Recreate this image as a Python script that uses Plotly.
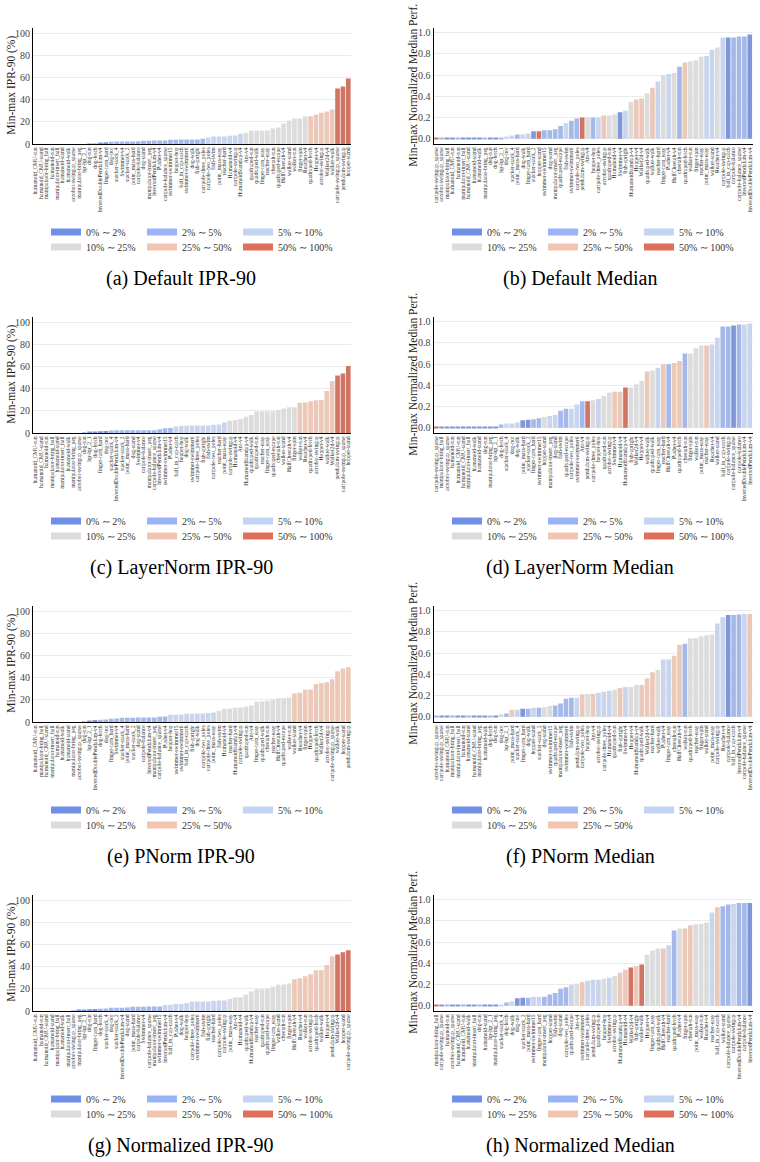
import plotly.graph_objects as go

W, H = 760, 1162
FONT = "Liberation Serif"

# ---------------- legend / colour categories ----------------
BIN_NAMES = ["0% ∼ 2%", "2% ∼ 5%", "5% ∼ 10%", "10% ∼ 25%", "25% ∼ 50%", "50% ∼ 100%"]
BIN_EDGES = [0, 2, 5, 10, 25, 50, 100]
LEGEND_COLORS = ["#7090E8", "#98B4F5", "#C3D3F3", "#DCDCDC", "#F3C5AF", "#DF6F5A"]
BAR_COLORS = ["#7F97D9", "#A4B9E9", "#C9D5ED", "#DCDCDC", "#EBC8B8", "#D07564"]

# ---------------- (a) Default IPR-90 ----------------
labels_default_ipr = [
    "humanoid_CMU-run", "humanoid_CMU-stand", "manipulator-bring_ball", "humanoid-run",
    "manipulator-insert_ball", "humanoid-stand", "humanoid-walk", "acrobot-swingup_sparse",
    "manipulator-bring_peg", "lqr-lqr_2_1", "dog-run", "dog-fetch", "InvertedDoublePendulum-v4",
    "finger-turn_hard", "dog-trot", "stacker-stack_4", "Swimmer-v4", "stacker-stack_2",
    "point_mass-hard", "cartpole-balance", "dog-stand", "manipulator-insert_peg",
    "InvertedPendulum-v4", "Pusher-v4", "cartpole-balance_sparse", "swimmer-swimmer15",
    "hopper-hop", "ball_in_cup-catch", "swimmer-swimmer6", "dog-walk", "fish-upright",
    "cartpole-three_poles", "cartpole-two_poles", "fish-swim", "point_mass-easy", "reacher-hard",
    "Humanoid-v4", "cartpole-swingup", "HumanoidStandup-v4", "Ant-v4", "quadruped-run",
    "quadruped-walk", "finger-turn_easy", "reacher-easy", "cheetah-run", "quadruped-escape",
    "HalfCheetah-v4", "walker-stand", "walker-run", "finger-spin", "Reacher-v4",
    "quadruped-fetch", "Hopper-v4", "acrobot-swingup", "Walker2d-v4", "walker-walk",
    "cartpole-swingup_sparse", "pendulum-swingup", "hopper-stand"]
values_default_ipr = [
    0, 0, 0, 0, 0, 0, 0, 0, 0, 0, 0.1, 0.3, 0.8, 1.6,
    2.1, 2.2, 2.2, 2.3, 2.3, 2.4, 3.0, 3.0, 3.1, 3.1, 3.2, 3.9, 3.9, 4.0, 4.0, 4.1, 4.1, 4.8,
    5.8, 6.7, 6.7, 6.8, 7.5, 7.6, 9.3,
    10.3, 12.1, 12.1, 12.1, 12.2, 14.0, 15.0, 18.5, 21.2, 23.0, 23.1, 24.8,
    25.1, 26.4, 28.2, 29.4, 31.2,
    50.3, 52.1, 59.4]

# ---------------- (b) Default Median ----------------
labels_default_med = [
    "cartpole-swingup_sparse", "acrobot-swingup_sparse", "manipulator-bring_ball", "humanoid_CMU-run",
    "humanoid-run", "manipulator-insert_ball", "humanoid_CMU-stand", "humanoid-stand", "humanoid-walk",
    "manipulator-bring_peg", "dog-run", "dog-fetch", "lqr-lqr_2_1", "dog-trot", "stacker-stack_4",
    "point_mass-hard", "dog-walk", "finger-turn_hard", "stacker-stack_2", "hopper-stand",
    "swimmer-swimmer15", "dog-stand", "manipulator-insert_peg", "quadruped-escape", "fish-swim",
    "swimmer-swimmer6", "cartpole-two_poles", "pendulum-swingup", "Ant-v4", "hopper-hop",
    "cartpole-three_poles", "acrobot-swingup", "quadruped-run", "Humanoid-v4", "Swimmer-v4",
    "fish-upright", "HumanoidStandup-v4", "Hopper-v4", "Walker2d-v4", "quadruped-walk", "walker-walk",
    "reacher-hard", "finger-turn_easy", "Pusher-v4", "HalfCheetah-v4", "cheetah-run", "quadruped-fetch",
    "walker-run", "finger-spin", "reacher-easy", "point_mass-easy", "walker-stand", "Reacher-v4",
    "cartpole-swingup", "ball_in_cup-catch", "cartpole-balance", "cartpole-balance_sparse",
    "InvertedPendulum-v4", "InvertedDoublePendulum-v4"]
values_default_med = [
    0.003, 0.004, 0.004, 0.005, 0.005, 0.005, 0.006, 0.006, 0.007, 0.008, 0.009, 0.010, 0.012,
    0.02, 0.03, 0.04, 0.04, 0.05, 0.07, 0.07, 0.08, 0.08, 0.09, 0.12, 0.145, 0.17, 0.19, 0.20,
    0.20, 0.20, 0.20, 0.22, 0.22, 0.23, 0.25, 0.265, 0.35, 0.37, 0.38, 0.43, 0.48, 0.54, 0.60,
    0.61, 0.62, 0.68, 0.72, 0.73, 0.74, 0.775, 0.78, 0.84, 0.86, 0.955, 0.955, 0.955, 0.965,
    0.965, 0.985]
bins_default_med = [
    5, 1, 0, 0, 1, 0, 0, 0, 0, 1, 0, 0, 1, 2, 2, 1, 2, 2, 0, 5, 1, 1, 1, 1, 2, 1, 1, 5, 3, 1,
    2, 4, 3, 3, 0, 2, 3, 4, 4, 3, 4, 2, 3, 2, 3, 1, 4, 3, 3, 3, 2, 2, 3, 2, 0, 1, 1, 1, 0]

# ---------------- (c) LayerNorm IPR-90 ----------------
labels_layernorm_ipr = [
    "humanoid_CMU-run", "humanoid_CMU-stand", "humanoid-run", "manipulator-bring_ball",
    "humanoid-stand", "manipulator-insert_ball", "humanoid-walk", "manipulator-bring_peg",
    "acrobot-swingup_sparse", "dog-run", "lqr-lqr_2_1", "dog-fetch", "finger-turn_hard", "dog-trot",
    "stacker-stack_4", "InvertedDoublePendulum-v4", "stacker-stack_2", "point_mass-hard", "dog-stand",
    "Swimmer-v4", "cartpole-balance", "manipulator-insert_peg", "cartpole-balance_sparse",
    "InvertedPendulum-v4", "swimmer-swimmer15", "Pusher-v4", "ball_in_cup-catch", "hopper-hop",
    "dog-walk", "swimmer-swimmer6", "cartpole-three_poles", "fish-upright", "fish-swim",
    "cartpole-two_poles", "reacher-hard", "point_mass-easy", "cartpole-swingup", "Humanoid-v4",
    "Ant-v4", "HumanoidStandup-v4", "quadruped-walk", "quadruped-run", "reacher-easy",
    "finger-turn_easy", "quadruped-escape", "cheetah-run", "walker-stand", "HalfCheetah-v4",
    "finger-spin", "walker-run", "Reacher-v4", "quadruped-fetch", "acrobot-swingup", "Hopper-v4",
    "walker-walk", "Walker2d-v4", "pendulum-swingup", "cartpole-swingup_sparse", "hopper-stand"]
values_layernorm_ipr = [
    0, 0, 0, 0, 0, 0, 0, 0, 0, 0.4, 0.7, 1.4, 1.5, 1.7,
    2.3, 2.4, 2.4, 2.4, 2.4, 2.5, 2.5, 2.5, 2.6, 3.3, 4.2, 4.6,
    5.9, 6.3, 6.6, 6.7, 6.7, 6.8, 6.8, 7.5, 7.6, 9.6,
    11.0, 11.7, 12.6, 14.8, 16.3, 19.5, 19.6, 19.6, 19.7, 20.9, 22.1, 23.3, 23.4,
    27.5, 27.6, 28.8, 29.7, 29.8, 38.0, 47.0,
    52.0, 53.8, 60.6]

# ---------------- (d) LayerNorm Median ----------------
labels_layernorm_med = [
    "cartpole-swingup_sparse", "manipulator-bring_ball", "acrobot-swingup_sparse", "humanoid-run",
    "humanoid_CMU-run", "humanoid_CMU-stand", "manipulator-insert_ball", "humanoid-walk",
    "humanoid-stand", "dog-run", "manipulator-bring_peg", "lqr-lqr_2_1", "dog-fetch",
    "stacker-stack_4", "dog-trot", "dog-walk", "point_mass-hard", "stacker-stack_2",
    "finger-turn_hard", "swimmer-swimmer15", "hopper-stand", "manipulator-insert_peg", "dog-stand",
    "fish-swim", "quadruped-escape", "cartpole-two_poles", "swimmer-swimmer6", "Ant-v4",
    "pendulum-swingup", "cartpole-three_poles", "hopper-hop", "quadruped-run", "acrobot-swingup",
    "Swimmer-v4", "Humanoid-v4", "HumanoidStandup-v4", "fish-upright", "Walker2d-v4", "Hopper-v4",
    "walker-walk", "quadruped-walk", "finger-turn_easy", "reacher-hard", "HalfCheetah-v4",
    "Pusher-v4", "quadruped-fetch", "cheetah-run", "finger-spin", "walker-run", "point_mass-easy",
    "reacher-easy", "Reacher-v4", "walker-stand", "ball_in_cup-catch", "cartpole-swingup",
    "cartpole-balance_sparse", "cartpole-balance", "InvertedDoublePendulum-v4", "InvertedPendulum-v4"]
values_layernorm_med = [
    0.003, 0.004, 0.005, 0.005, 0.006, 0.006, 0.007, 0.008, 0.008, 0.009, 0.010, 0.012,
    0.03, 0.04, 0.04, 0.05, 0.07, 0.075, 0.08, 0.09, 0.10, 0.11, 0.12, 0.16, 0.18, 0.18, 0.22,
    0.25, 0.25, 0.26, 0.27, 0.30, 0.33, 0.34, 0.34, 0.38, 0.38, 0.41, 0.44, 0.53, 0.54, 0.565,
    0.60, 0.60, 0.61, 0.63, 0.70, 0.70, 0.75, 0.775, 0.775, 0.785, 0.85, 0.955, 0.955, 0.965,
    0.975, 0.975, 0.985]
bins_layernorm_med = [
    5, 0, 0, 0, 0, 0, 0, 0, 0, 0, 0, 0, 1, 2, 2, 2, 0, 0, 1, 1, 3, 2, 2, 1, 1, 2, 2, 1, 5, 3,
    2, 3, 3, 4, 4, 5, 3, 3, 3, 4, 3, 2, 4, 1, 4, 4, 1, 3, 3, 3, 4, 2, 2, 1, 1, 0, 1, 2, 2]

# ---------------- (e) PNorm IPR-90 ----------------
labels_pnorm_ipr = [
    "humanoid_CMU-run", "manipulator-bring_ball", "humanoid_CMU-stand", "manipulator-insert_ball",
    "humanoid-run", "humanoid-walk", "humanoid-stand", "manipulator-bring_peg",
    "acrobot-swingup_sparse", "dog-run", "lqr-lqr_2_1", "InvertedDoublePendulum-v4", "dog-fetch",
    "dog-trot", "finger-turn_hard", "Swimmer-v4", "stacker-stack_4", "point_mass-hard",
    "stacker-stack_2", "dog-stand", "cartpole-balance", "InvertedPendulum-v4",
    "manipulator-insert_peg", "cartpole-balance_sparse", "Pusher-v4", "hopper-hop",
    "swimmer-swimmer15", "swimmer-swimmer6", "ball_in_cup-catch", "fish-upright", "dog-walk",
    "cartpole-two_poles", "cartpole-three_poles", "point_mass-easy", "fish-swim", "Humanoid-v4",
    "reacher-hard", "HumanoidStandup-v4", "cartpole-swingup", "quadruped-run", "Ant-v4",
    "finger-turn_easy", "quadruped-walk", "cheetah-run", "reacher-easy", "HalfCheetah-v4",
    "quadruped-escape", "walker-run", "walker-stand", "Reacher-v4", "finger-spin", "Hopper-v4",
    "quadruped-fetch", "Walker2d-v4", "acrobot-swingup", "cartpole-swingup_sparse", "walker-walk",
    "hopper-stand", "pendulum-swingup"]
values_pnorm_ipr = [
    0, 0, 0, 0, 0, 0, 0, 0, 0, 0.3, 0.9, 1.8,
    2.1, 2.2, 3.0, 3.1, 3.9, 3.9, 3.9, 4.0, 4.0, 4.0, 4.1, 4.8, 4.9,
    6.5, 6.6, 6.7, 7.5, 7.5, 7.6, 7.7, 8.1, 8.5,
    10.2, 12.0, 12.1, 13.0, 13.1, 14.0, 14.9, 18.3, 18.5, 19.3, 20.2, 21.4, 21.6, 22.2,
    25.7, 26.6, 29.3, 29.4, 34.3, 35.2, 36.0, 38.8, 46.0, 48.5, 49.6]

# ---------------- (f) PNorm Median ----------------
labels_pnorm_med = [
    "acrobot-swingup_sparse", "cartpole-swingup_sparse", "humanoid_CMU-run", "manipulator-bring_ball",
    "manipulator-insert_ball", "humanoid-run", "humanoid-stand", "humanoid_CMU-stand",
    "manipulator-bring_peg", "humanoid-walk", "dog-fetch", "dog-run", "dog-trot", "lqr-lqr_2_1",
    "point_mass-hard", "stacker-stack_4", "finger-turn_hard", "dog-walk", "hopper-stand",
    "stacker-stack_2", "dog-stand", "swimmer-swimmer15", "quadruped-escape", "manipulator-insert_peg",
    "swimmer-swimmer6", "fish-swim", "pendulum-swingup", "cartpole-two_poles", "hopper-hop", "Ant-v4",
    "acrobot-swingup", "cartpole-three_poles", "Humanoid-v4", "quadruped-run", "fish-upright",
    "Swimmer-v4", "Hopper-v4", "HumanoidStandup-v4", "quadruped-walk", "Walker2d-v4", "reacher-hard",
    "walker-walk", "Pusher-v4", "finger-turn_easy", "cheetah-run", "HalfCheetah-v4", "walker-run",
    "quadruped-fetch", "reacher-easy", "finger-spin", "walker-stand", "point_mass-easy",
    "cartpole-swingup", "Reacher-v4", "cartpole-balance", "ball_in_cup-catch", "InvertedPendulum-v4",
    "cartpole-balance_sparse", "InvertedDoublePendulum-v4"]
values_pnorm_med = [
    0.004, 0.005, 0.006, 0.006, 0.007, 0.007, 0.008, 0.008, 0.009, 0.009, 0.010, 0.012,
    0.02, 0.03, 0.065, 0.065, 0.075, 0.075, 0.085, 0.085, 0.09, 0.10, 0.105, 0.125, 0.17, 0.18,
    0.18, 0.21, 0.215, 0.215, 0.225, 0.235, 0.245, 0.255, 0.27, 0.28, 0.28, 0.30, 0.30, 0.36,
    0.42, 0.44, 0.54, 0.54, 0.575, 0.68, 0.69, 0.74, 0.74, 0.76, 0.77, 0.775, 0.88, 0.94, 0.96,
    0.96, 0.965, 0.97, 0.97]
bins_pnorm_med = [
    1, 0, 0, 1, 0, 0, 1, 0, 0, 0, 1, 0, 2, 1, 4, 2, 0, 1, 2, 1, 3, 3, 1, 1, 1, 1, 2, 4, 3, 4,
    2, 2, 2, 3, 4, 2, 3, 3, 4, 4, 4, 3, 2, 2, 4, 4, 1, 3, 3, 3, 3, 3, 2, 2, 0, 1, 1, 2, 4]

# ---------------- (g) Normalized IPR-90 ----------------
labels_normalized_ipr = [
    "humanoid_CMU-run", "humanoid-run", "humanoid_CMU-stand", "humanoid-stand",
    "manipulator-bring_ball", "humanoid-walk", "manipulator-insert_ball", "acrobot-swingup_sparse",
    "manipulator-bring_peg", "lqr-lqr_2_1", "dog-run", "finger-turn_hard", "dog-fetch",
    "stacker-stack_4", "dog-trot", "stacker-stack_2", "InvertedDoublePendulum-v4", "dog-stand",
    "point_mass-hard", "cartpole-balance", "Swimmer-v4", "cartpole-balance_sparse",
    "manipulator-insert_peg", "swimmer-swimmer15", "InvertedPendulum-v4", "ball_in_cup-catch",
    "Pusher-v4", "dog-walk", "hopper-hop", "cartpole-three_poles", "swimmer-swimmer6", "fish-swim",
    "fish-upright", "reacher-hard", "cartpole-two_poles", "cartpole-swingup", "point_mass-easy",
    "Ant-v4", "Humanoid-v4", "quadruped-walk", "HumanoidStandup-v4", "reacher-easy",
    "quadruped-run", "quadruped-escape", "finger-turn_easy", "walker-stand", "cheetah-run",
    "finger-spin", "HalfCheetah-v4", "Reacher-v4", "walker-run", "acrobot-swingup",
    "quadruped-fetch", "walker-walk", "Hopper-v4", "pendulum-swingup", "Walker2d-v4",
    "hopper-stand", "cartpole-swingup_sparse"]
values_normalized_ipr = [
    0, 0, 0, 0, 0, 0, 0, 0.4, 0.5, 0.9, 1.6, 1.7,
    2.1, 2.2, 3.0, 3.0, 3.0, 3.1, 3.9, 3.9, 3.9, 4.0, 4.0, 4.1,
    5.4, 5.6, 6.3, 6.4, 7.2, 8.5, 8.5, 8.6, 8.7, 9.3, 9.4, 9.4,
    10.9, 12.3, 12.5, 14.8, 17.6, 19.6, 19.7, 20.2, 22.0, 23.8, 24.0, 24.8,
    28.7, 29.6, 31.4, 33.2, 36.9, 37.0, 41.7, 49.5,
    51.2, 53.2, 55.0]

# ---------------- (h) Normalized Median ----------------
labels_normalized_med = [
    "manipulator-bring_ball", "cartpole-swingup_sparse", "humanoid-run", "acrobot-swingup_sparse",
    "humanoid_CMU-stand", "humanoid_CMU-run", "humanoid-walk", "manipulator-insert_ball", "dog-run",
    "humanoid-stand", "lqr-lqr_2_1", "manipulator-bring_peg", "stacker-stack_4", "dog-fetch",
    "dog-walk", "dog-trot", "stacker-stack_2", "point_mass-hard", "swimmer-swimmer15",
    "finger-turn_hard", "manipulator-insert_peg", "hopper-stand", "fish-swim", "dog-stand",
    "cartpole-two_poles", "quadruped-escape", "Ant-v4", "swimmer-swimmer6", "cartpole-three_poles",
    "pendulum-swingup", "quadruped-run", "hopper-hop", "Swimmer-v4", "acrobot-swingup",
    "HumanoidStandup-v4", "Humanoid-v4", "Walker2d-v4", "fish-upright", "walker-walk", "Hopper-v4",
    "finger-turn_easy", "quadruped-walk", "HalfCheetah-v4", "reacher-hard", "quadruped-fetch",
    "Pusher-v4", "finger-spin", "cheetah-run", "point_mass-easy", "walker-run", "Reacher-v4",
    "reacher-easy", "ball_in_cup-catch", "walker-stand", "cartpole-balance_sparse",
    "cartpole-swingup", "InvertedDoublePendulum-v4", "cartpole-balance", "InvertedPendulum-v4"]
values_normalized_med = [
    0.005, 0.005, 0.005, 0.006, 0.006, 0.007, 0.007, 0.008, 0.008, 0.009, 0.010, 0.011,
    0.012, 0.03, 0.04, 0.07, 0.075, 0.075, 0.085, 0.085, 0.085, 0.105, 0.12, 0.16, 0.175, 0.195,
    0.21, 0.225, 0.235, 0.245, 0.245, 0.255, 0.265, 0.28, 0.31, 0.34, 0.36, 0.375, 0.39, 0.48,
    0.52, 0.54, 0.54, 0.57, 0.71, 0.73, 0.73, 0.76, 0.77, 0.775, 0.785, 0.88, 0.93, 0.94, 0.955,
    0.96, 0.97, 0.97, 0.97]
bins_normalized_med = [
    5, 0, 1, 0, 0, 1, 0, 0, 1, 0, 0, 0, 2, 1, 2, 0, 0, 1, 2, 2, 1, 1, 1, 1, 1, 2, 3, 4, 2, 2,
    2, 3, 2, 3, 4, 4, 5, 4, 5, 3, 3, 3, 4, 2, 1, 3, 4, 4, 3, 3, 3, 2, 4, 1, 1, 2, 1, 1, 0]

CAPTIONS = ["(a) Default IPR-90", "(b) Default Median", "(c) LayerNorm IPR-90", "(d) LayerNorm Median",
            "(e) PNorm IPR-90", "(f) PNorm Median", "(g) Normalized IPR-90", "(h) Normalized Median"]
IPR_TITLE = "Min-max IPR-90 (%)"
MED_TITLE = "Min-max Normalized Median Perf."


def ipr_bin(v):
    for i in range(6):
        if v < BIN_EDGES[i + 1]:
            return i
    return 5


panels = []
ipr_sets = [(labels_default_ipr, values_default_ipr), (labels_layernorm_ipr, values_layernorm_ipr),
            (labels_pnorm_ipr, values_pnorm_ipr), (labels_normalized_ipr, values_normalized_ipr)]
med_sets = [(labels_default_med, values_default_med, bins_default_med),
            (labels_layernorm_med, values_layernorm_med, bins_layernorm_med),
            (labels_pnorm_med, values_pnorm_med, bins_pnorm_med),
            (labels_normalized_med, values_normalized_med, bins_normalized_med)]
for r in range(4):
    lab, val = ipr_sets[r]
    panels.append(dict(row=r, col=0, kind="ipr", labels=lab, values=val,
                       bins=[ipr_bin(v) for v in val], caption=CAPTIONS[2 * r]))
    lab, val, bns = med_sets[r]
    panels.append(dict(row=r, col=1, kind="med", labels=lab, values=val,
                       bins=bns, caption=CAPTIONS[2 * r + 1]))

# ---------------- layout geometry (px) ----------------
ROW_PITCH = 289.0
PLOT_TOP, PLOT_BOTTOM = 27.5, 144.0
X_DOMAINS = [(33.0, 351.0), (433.5, 752.5)]
LEG_SYM_X = [53.0, 454.0]
LEG_ROW_Y = [232.0, 247.0]
CAPTION_X = [181.0, 580.0]
CAPTION_Y = 278.0
YTITLE_X = [12.0, 413.0]


def py(px):
    return 1.0 - px / H


fig = go.Figure()
layout = dict(width=W, height=H, margin=dict(l=0, r=0, t=0, b=0),
              paper_bgcolor="white", plot_bgcolor="white", bargap=0.14,
              showlegend=True, font=dict(family=FONT, color="#222"))
annotations = []
leg_count = 0

for n, p in enumerate(panels, start=1):
    r, c = p["row"], p["col"]
    off = ROW_PITCH * r
    xs = "x" if n == 1 else f"x{n}"
    ys = "y" if n == 1 else f"y{n}"
    fig.add_trace(go.Bar(
        x=p["labels"], y=p["values"], xaxis=xs, yaxis=ys,
        marker=dict(color=[BAR_COLORS[b] for b in p["bins"]], line=dict(width=0)),
        showlegend=False, hoverinfo="x+y"))

    x0, x1 = X_DOMAINS[c]
    layout["xaxis" if n == 1 else f"xaxis{n}"] = dict(
        domain=[x0 / W, x1 / W], anchor=ys, type="category",
        categoryorder="array", categoryarray=p["labels"],
        tickmode="array", tickvals=p["labels"], ticktext=p["labels"],
        tickangle=-90, tickfont=dict(family=FONT, size=5.6, color="#333"),
        showline=True, linecolor="black", linewidth=1.2, mirror=False,
        showgrid=False, zeroline=False, ticks="", automargin=False, fixedrange=True)
    if p["kind"] == "ipr":
        yr = [0, 105.5]
        tv = [0, 20, 40, 60, 80, 100]
        tt = [str(v) for v in tv]
    else:
        yr = [-0.05, 1.05]
        tv = [0.0, 0.2, 0.4, 0.6, 0.8, 1.0]
        tt = [f"{v:.1f}" for v in tv]
    layout["yaxis" if n == 1 else f"yaxis{n}"] = dict(
        domain=[py(PLOT_BOTTOM + off), py(PLOT_TOP + off)], anchor=xs, range=yr,
        tickmode="array", tickvals=tv, ticktext=tt,
        tickfont=dict(family=FONT, size=10, color="#444"),
        showgrid=True, gridcolor="#EBEBEB", gridwidth=1,
        showline=True, linecolor="black", linewidth=1.2,
        zeroline=False, ticks="", automargin=False, fixedrange=True)

    # y-axis title
    annotations.append(dict(
        text=IPR_TITLE if p["kind"] == "ipr" else MED_TITLE,
        xref="paper", yref="paper", x=YTITLE_X[c] / W,
        y=py((PLOT_TOP + PLOT_BOTTOM) / 2 + off), textangle=-90,
        xanchor="center", yanchor="middle", showarrow=False,
        font=dict(family=FONT, size=11.5, color="#222")))
    # caption
    annotations.append(dict(
        text=p["caption"], xref="paper", yref="paper", x=CAPTION_X[c] / W,
        y=py(CAPTION_Y + off), xanchor="center", yanchor="middle", showarrow=False,
        font=dict(family=FONT, size=20, color="black")))

    # legend: categories present, split into rows of three
    present = sorted(set(p["bins"]))
    rows = [present[:3], present[3:]]
    for ri, row_bins in enumerate(rows):
        if not row_bins:
            continue
        leg_count += 1
        lid = "legend" if leg_count == 1 else f"legend{leg_count}"
        layout[lid] = dict(
            x=(LEG_SYM_X[c] - 7) / W, y=py(LEG_ROW_Y[ri] + off),
            xanchor="left", yanchor="middle", orientation="h",
            bgcolor="rgba(0,0,0,0)", borderwidth=0,
            font=dict(family=FONT, size=10, color="#333"),
            entrywidth=51, entrywidthmode="pixels", itemwidth=30,
            itemclick=False, itemdoubleclick=False, tracegroupgap=0)
        for b in row_bins:
            fig.add_trace(go.Scatter(
                x=[None], y=[None], xaxis=xs, yaxis=ys, mode="lines",
                line=dict(color=LEGEND_COLORS[b], width=7),
                name=BIN_NAMES[b], legend=lid, showlegend=True, hoverinfo="skip"))

layout["annotations"] = annotations
fig.update_layout(**layout)
fig.write_html("out.html")
